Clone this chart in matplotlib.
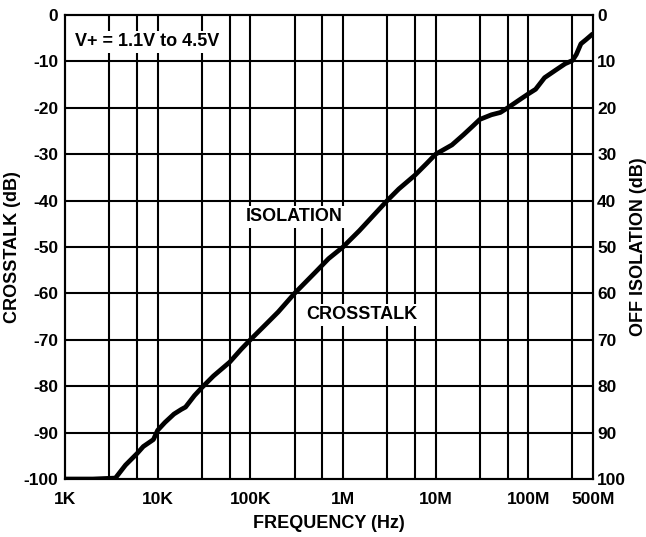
import matplotlib
matplotlib.use("Agg")
import matplotlib.pyplot as plt
from matplotlib.ticker import FixedLocator, NullLocator

plt.rcParams['font.family'] = ['Liberation Sans', 'DejaVu Sans']
plt.rcParams['font.weight'] = 'bold'

freq = [1e3, 2e3, 3.5e3, 4.5e3, 6e3, 7e3, 8e3, 9e3, 10e3, 12e3, 15e3, 18e3, 20e3,
        25e3, 30e3, 40e3, 60e3, 80e3, 100e3, 150e3, 200e3, 300e3, 500e3, 700e3,
        1e6, 1.5e6, 2e6, 3e6, 4e6, 6e6, 8e6, 10e6, 15e6, 20e6, 25e6, 30e6,
        40e6, 50e6, 60e6, 80e6, 100e6, 120e6, 150e6, 200e6, 250e6, 300e6,
        330e6, 370e6, 420e6, 500e6]
crosstalk = [-100, -100, -99.8, -97, -94.5, -93, -92.2, -91.5, -89.5, -87.8, -86, -85, -84.5,
             -82, -80.3, -77.8, -74.8, -72, -70, -66.5, -64, -60, -55.5, -52.5,
             -50, -46.5, -43.8, -40, -37.5, -34.5, -32, -30, -28, -25.8, -24, -22.5,
             -21.5, -21, -20, -18.3, -17, -16, -13.5, -11.8, -10.5, -9.8,
             -8.5, -6.2, -5.3, -4]

xticks = [1e3, 1e4, 1e5, 1e6, 1e7, 1e8, 5e8]
xlabels = ['1K', '10K', '100K', '1M', '10M', '100M', '500M']
xgrid = [3e3, 6e3, 1e4, 3e4, 6e4, 1e5, 3e5, 6e5, 1e6, 3e6, 6e6, 1e7, 3e7, 6e7, 1e8, 3e8]
yticks = [0, -10, -20, -30, -40, -50, -60, -70, -80, -90, -100]
yticks_right = [0, 10, 20, 30, 40, 50, 60, 70, 80, 90, 100]

fig = plt.figure(figsize=(6.46, 5.37), dpi=100)
ax = fig.add_axes([0.1006, 0.108, 0.8174, 0.864])

ax.set_xscale('log')
ax.set_xlim(1e3, 5e8)
ax.set_ylim(-100, 0)

# grid
for g in xgrid:
    ax.axvline(g, color='black', lw=1.5, zorder=1)
for y in yticks[1:-1]:
    ax.axhline(y, color='black', lw=1.5, zorder=1)

ax.plot(freq, crosstalk, color='black', lw=3.4, zorder=3, solid_capstyle='butt')

ax.xaxis.set_major_locator(FixedLocator(xticks))
ax.xaxis.set_minor_locator(NullLocator())
ax.set_xticklabels(xlabels)
ax.set_yticks(yticks)
ax.set_yticklabels([str(v) for v in yticks])
ax.tick_params(axis='x', length=0, labelsize=12.5, pad=9)
ax.tick_params(axis='y', length=0, labelsize=12.5, pad=5)
for lab in ax.get_xticklabels() + ax.get_yticklabels():
    lab.set_fontweight('bold')
for s in ax.spines.values():
    s.set_linewidth(1.5)

ax.set_xlabel('FREQUENCY (Hz)', fontsize=13, fontweight='bold', labelpad=6)
ax.set_ylabel('CROSSTALK (dB)', fontsize=13, fontweight='bold', labelpad=2)

ax2 = ax.twinx()
ax2.set_ylim(100, 0)
ax2.set_yticks(yticks_right)
ax2.set_yticklabels([str(v) for v in yticks_right])
ax2.tick_params(axis='y', length=0, labelsize=12.5, pad=3)
for lab in ax2.get_yticklabels():
    lab.set_fontweight('bold')
for s in ax2.spines.values():
    s.set_linewidth(1.5)
ax2.set_ylabel('OFF ISOLATION (dB)', fontsize=13, fontweight='bold', labelpad=3)

box = dict(facecolor='white', edgecolor='none', pad=2)
ax.text(1.28e3, -5.8, 'V+ = 1.1V to 4.5V', fontsize=13, fontweight='bold',
        ha='left', va='center', bbox=box, zorder=4)
ax.text(2.96e5, -43.5, 'ISOLATION', fontsize=13, fontweight='bold',
        ha='center', va='center', bbox=box, zorder=4)
ax.text(1.6e6, -64.6, 'CROSSTALK', fontsize=13, fontweight='bold',
        ha='center', va='center', bbox=box, zorder=4)

fig.savefig('out.png', dpi=100)
